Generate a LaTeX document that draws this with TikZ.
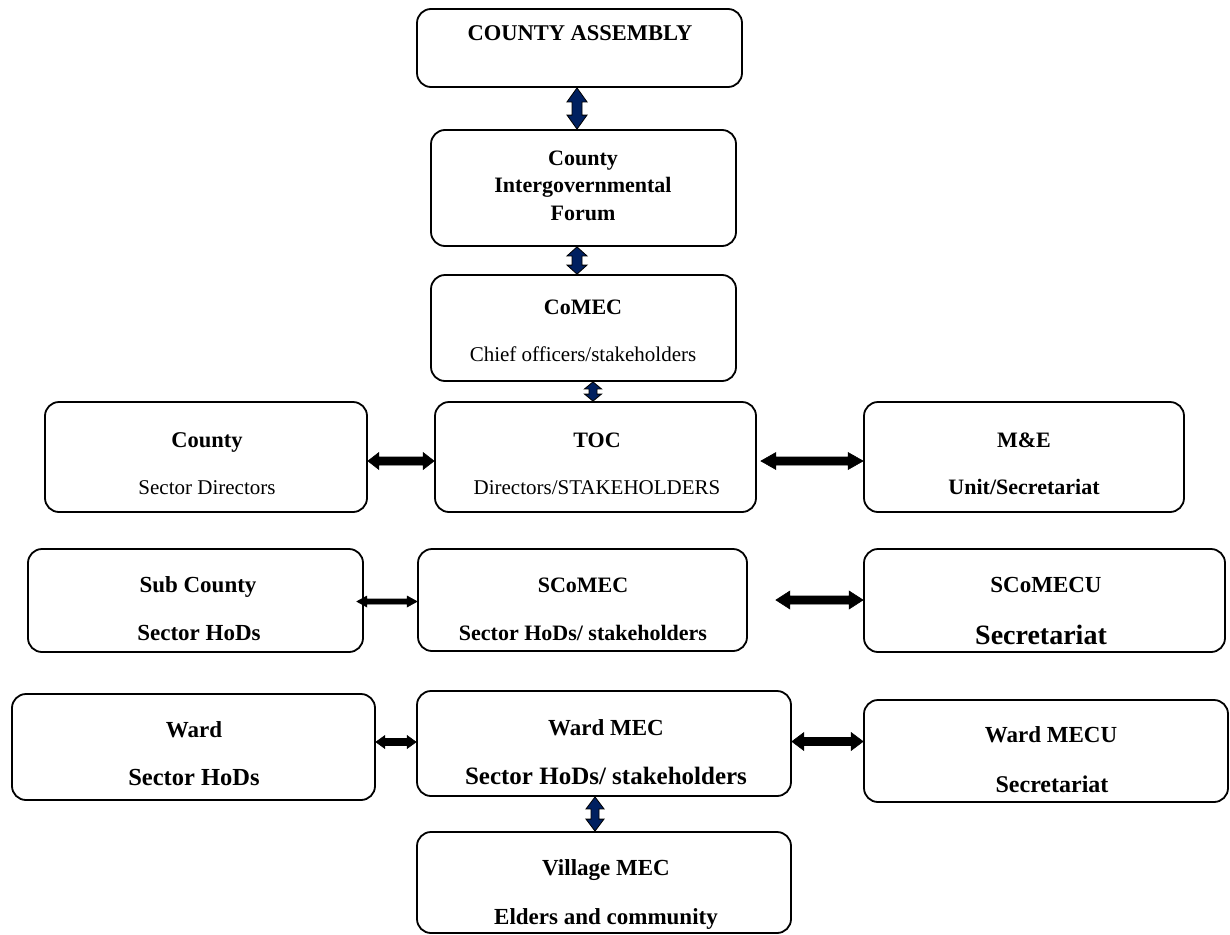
\documentclass[tikz,border=0pt]{standalone}
\usepackage{fontspec}
\setmainfont{Liberation Serif}
\usetikzlibrary{calc}
\definecolor{navyfill}{HTML}{002060}
\newcommand\fs[1]{\fontsize{#1}{#1}\selectfont}
% vertical double block arrow: #1 fill, #2 top point, #3 bottom point, #4 shaft half, #5 head half, #6 head length
\newcommand\varrow[6]{%
  \path[draw=black, fill=#1, line width=0.8pt, line join=miter]
  let \p1=(#2), \p2=(#3) in
  (\x1,\y1) -- (\x1-#5,\y1-#6) -- (\x1-#4,\y1-#6) -- (\x1-#4,\y2+#6) -- (\x1-#5,\y2+#6) -- (\x1,\y2)
  -- (\x1+#5,\y2+#6) -- (\x1+#4,\y2+#6) -- (\x1+#4,\y1-#6) -- (\x1+#5,\y1-#6) -- cycle;}
% horizontal double block arrow: #1 fill, #2 left point, #3 right point (x only), #4 shaft half, #5 head half, #6 head length
\newcommand\harrow[6]{%
  \path[draw=black, fill=#1, line width=0.6pt, line join=miter]
  let \p1=(#2), \p2=(#3) in
  (\x1,\y1) -- (\x1+#6,\y1+#5) -- (\x1+#6,\y1+#4) -- (\x2-#6,\y1+#4) -- (\x2-#6,\y1+#5) -- (\x2,\y1)
  -- (\x2-#6,\y1-#5) -- (\x2-#6,\y1-#4) -- (\x1+#6,\y1-#4) -- (\x1+#6,\y1-#5) -- cycle;}
\tikzset{
  box/.style={draw, line width=1.8pt, rounded corners=14pt, inner sep=0pt, fill=white},
  tx/.style={inner sep=0pt, yshift=-5pt, text height=0.7em, text depth=0.2em, font=\fs{23}\bfseries},
  tr/.style={inner sep=0pt, yshift=-5pt, text height=0.7em, text depth=0.2em, font=\fs{21}},
}
\begin{document}
\begin{tikzpicture}[x=1pt,y=-1pt]
\useasboundingbox (0,0) rectangle (1230,934);
% boxes
\node[box, minimum width=325pt, minimum height=78pt] (ca) at (579.5,48) {};
\node[box, minimum width=305pt, minimum height=116pt] (igf) at (583.5,188) {};
\node[box, minimum width=305pt, minimum height=106pt] (comec) at (583.5,328) {};
\node[box, minimum width=322pt, minimum height=110pt] (county) at (206,457) {};
\node[box, minimum width=321pt, minimum height=110pt] (toc) at (595.5,457) {};
\node[box, minimum width=320pt, minimum height=110pt] (me) at (1024,457) {};
\node[box, minimum width=335pt, minimum height=103pt] (sub) at (195.5,600.5) {};
\node[box, minimum width=329pt, minimum height=102pt] (scomec) at (582.5,600) {};
\node[box, minimum width=361pt, minimum height=103pt] (scomecu) at (1044.5,600.5) {};
\node[box, minimum width=363pt, minimum height=106pt] (ward) at (193.5,747) {};
\node[box, minimum width=374pt, minimum height=105pt] (wmec) at (604,743.5) {};
\node[box, minimum width=364pt, minimum height=102pt] (wmecu) at (1046,751) {};
\node[box, minimum width=374pt, minimum height=101pt] (village) at (604,882.5) {};
% texts
\node[tx, font=\fs{22.5}\bfseries] (t-ca) at (580,33) {COUNTY ASSEMBLY};
\node[tx, font=\fs{22}\bfseries] (t-igf1) at (583,158) {County};
\node[tx, font=\fs{22}\bfseries] (t-igf2) at (583,185) {Intergovernmental};
\node[tx, font=\fs{22}\bfseries] (t-igf3) at (583,213) {Forum};
\node[tx, font=\fs{22}\bfseries] (t-comec1) at (583,307) {CoMEC};
\node[tr] (t-comec2) at (583,354) {Chief officers/stakeholders};
\node[tx, font=\fs{22.5}\bfseries] (t-county1) at (207,440) {County};
\node[tr] (t-county2) at (207,487) {Sector Directors};
\node[tx, font=\fs{22}\bfseries] (t-toc1) at (597,440) {TOC};
\node[tr] (t-toc2) at (597,487) {Directors/STAKEHOLDERS};
\node[tx, font=\fs{22}\bfseries] (t-me1) at (1024,440) {M\&E};
\node[tx, font=\fs{22}\bfseries] (t-me2) at (1024,487) {Unit/Secretariat};
\node[tx] (t-sub1) at (198,585) {Sub County};
\node[tx] (t-sub2) at (199,633) {Sector HoDs};
\node[tx, font=\fs{22}\bfseries] (t-scomec1) at (583,585) {SCoMEC};
\node[tx, font=\fs{22}\bfseries] (t-scomec2) at (583,633) {Sector HoDs/ stakeholders};
\node[tx] (t-scomecu1) at (1046,585) {SCoMECU};
\node[tx, font=\fs{28}\bfseries] (t-scomecu2) at (1041,637) {Secretariat};
\node[tx] (t-ward1) at (194,730) {Ward};
\node[tx, font=\fs{24.5}\bfseries] (t-ward2) at (194,778) {Sector HoDs};
\node[tx] (t-wmec1) at (606,728) {Ward MEC};
\node[tx, font=\fs{25}\bfseries] (t-wmec2) at (606,777) {Sector HoDs/ stakeholders};
\node[tx] (t-wmecu1) at (1051,735) {Ward MECU};
\node[tx, font=\fs{24}\bfseries] (t-wmecu2) at (1052,785) {Secretariat};
\node[tx] (t-village1) at (606,868) {Village MEC};
\node[tx] (t-village2) at (606,917) {Elders and community};
% vertical arrows
\varrow{navyfill}{[xshift=-2.5pt]ca.south}{igf.north}{5pt}{10pt}{14pt}
\varrow{navyfill}{[xshift=-6.5pt]igf.south}{comec.north}{5pt}{10pt}{9pt}
\varrow{navyfill}{[xshift=9.5pt]comec.south}{toc.north}{4pt}{8.5pt}{7pt}
\varrow{navyfill}{[xshift=-9pt]wmec.south}{village.north}{4pt}{9pt}{12pt}
% horizontal arrows
\harrow{black}{[yshift=-4pt]county.east}{toc.west}{4pt}{8.5pt}{11pt}
\harrow{black}{[xshift=4pt,yshift=-4pt]toc.east}{me.west}{4pt}{8.5pt}{15pt}
\harrow{black}{[xshift=-7pt,yshift=-1pt]sub.east}{scomec.west}{2.5pt}{5.5pt}{10pt}
\harrow{black}{[xshift=28pt]scomec.east}{scomecu.west}{4pt}{9pt}{14pt}
\harrow{black}{[yshift=5pt]ward.east}{wmec.west}{3.5pt}{6.5pt}{9pt}
\harrow{black}{[yshift=2pt]wmec.east}{wmecu.west}{4pt}{9pt}{12pt}
\end{tikzpicture}
\end{document}
